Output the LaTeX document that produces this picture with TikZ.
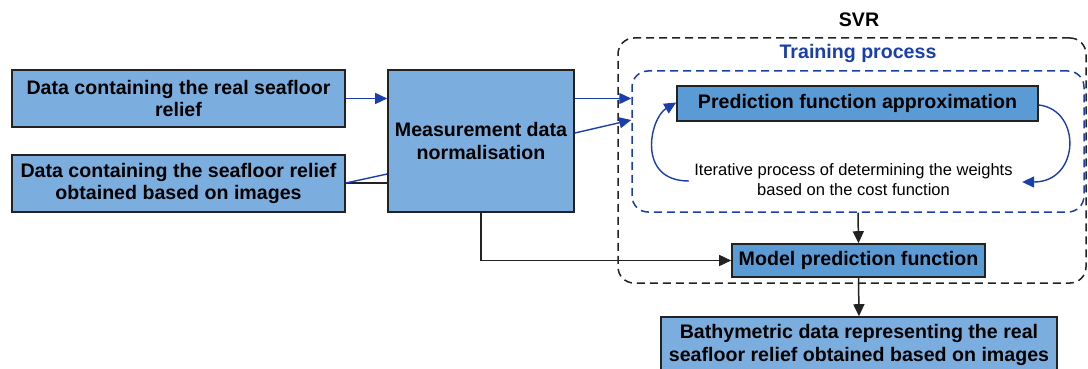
\documentclass[tikz,border=0pt]{standalone}
\usepackage{fontspec}
\setmainfont{Liberation Sans}
\usetikzlibrary{arrows.meta,calc}
\definecolor{boxlight}{HTML}{7BAEDE}
\definecolor{boxdark}{HTML}{5B9BD5}
\definecolor{lineblue}{HTML}{1A3FAA}
\definecolor{edge}{HTML}{222222}
\tikzset{
  databox/.style={draw=edge,line width=1.6pt,fill=boxlight,align=center,inner sep=0pt,
    font=\fontsize{19.6}{22.5}\selectfont\bfseries},
  svrbox/.style={databox,fill=boxdark},
  blueline/.style={draw=lineblue,line width=1.4pt},
  bluearrow/.style={blueline,-{Triangle[length=12pt,width=11pt]}},
  blackline/.style={draw=edge,line width=1.5pt},
  blackarrow/.style={blackline,-{Triangle[length=12pt,width=11pt]}},
  frame/.style={rounded corners=16pt,line width=1.5pt,dash pattern=on 8pt off 5pt,inner sep=0pt}
}
\begin{document}
\begin{tikzpicture}[x=1pt,y=-1pt]
\useasboundingbox (0,0) rectangle (1088,369);
\clip (0,0) rectangle (1088,369);
% frames
\node[frame,draw=edge,minimum width=468pt,minimum height=245pt] (S) at (852,160.5) {};
\node[font=\fontsize{19.6}{22}\selectfont\bfseries] (SL) at (859,20) {SVR};
\node[frame,draw=lineblue,minimum width=452pt,minimum height=141pt] (T) at (858,141.5) {};
\node[font=\fontsize{19.6}{22}\selectfont\bfseries,text=lineblue] (TL) at (858,53) {Training process};
% boxes
\node[databox,minimum width=333pt,minimum height=57pt] (A) at (178.5,98.5) {Data containing the real seafloor\\relief};
\node[databox,minimum width=333pt,minimum height=57pt] (B) at (178.5,183.5) {Data containing the seafloor relief\\obtained based on images};
\node[databox,minimum width=186pt,minimum height=142pt] (C) at (481,141) {Measurement data\\normalisation};
\node[svrbox,minimum width=361pt,minimum height=35pt] (P) at (857.5,103.5) {Prediction function approximation};
\node[align=center,font=\fontsize{16.5}{20}\selectfont] (I) at (853.5,180) {Iterative process of determining the weights\\based on the cost function};
\node[svrbox,minimum width=253pt,minimum height=33pt] (M) at (858.5,260.5) {Model prediction function};
\node[databox,minimum width=396pt,minimum height=56pt] (Z) at (859,345) {Bathymetric data representing the real\\seafloor relief obtained based on images};
% connectors
\draw[bluearrow] (A.east) -- (C.west |- A.east);
\draw[blackline] (B.east |- 0,183) -- (C.west |- 0,183);
\coordinate (b1) at (B.east |- 0,183);
\coordinate (c1) at (C.west |- 0,174);
\draw[blueline] (b1) -- (c1);
\draw[bluearrow] (C.east |- A.east) -- (T.west |- A.east);
\coordinate (c2) at (C.east |- 0,133);
\coordinate (t2) at (T.west |- 0,120);
\draw[bluearrow] (c2) -- (t2);
\draw[blackarrow] (C.south) |- (M.west);
\draw[blackarrow] (T.south) -- (M.north);
\draw[blackarrow] (M.south) -- (Z.north);
% iteration loop
\coordinate (pl) at ($(P.west)+(0,-1)$);
\coordinate (pr) at ($(P.east)+(0,1.5)$);
\draw[bluearrow] ($(I.west)+(-2,1)$) .. controls (636,181) and (650,118) .. (pl);
\draw[bluearrow] (pr) .. controls (1082,110) and (1080,182) .. ($(I.east)+(6,2)$);
\end{tikzpicture}
\end{document}
